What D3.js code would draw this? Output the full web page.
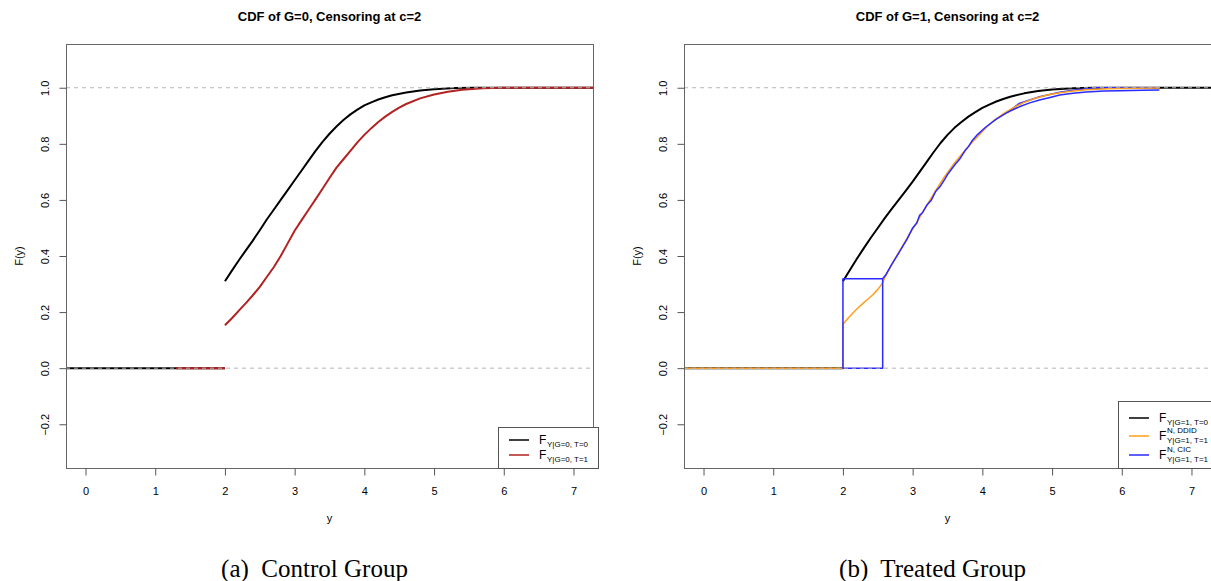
<!DOCTYPE html>
<html>
<head>
<meta charset="utf-8">
<script src="https://cdn.jsdelivr.net/npm/d3@7"></script>
<style>
  body { margin: 0; background: #fff; }
  svg { display: block; }
</style>
</head>
<body>
<svg></svg>
<script>
// Dimensions
var width = 1211;
var height = 581;

// Axis ticks and labels
var xTicks = [0, 1, 2, 3, 4, 5, 6, 7];
var yTicks = [-0.2, 0, 0.2, 0.4, 0.6, 0.8, 1.0];
var titles = ['CDF of G=0, Censoring at c=2', 'CDF of G=1, Censoring at c=2'];
var captions = ['(a)  Control Group', '(b)  Treated Group'];

// Control group CDFs, [y, F(y)] (null breaks the line)
var ctrlT0 = [[-0.3, 0], [2, 0], [2, null],
  [2.0, 0.31], [2.1, 0.348], [2.2, 0.385], [2.3, 0.42], [2.4, 0.455], [2.5, 0.492], [2.6, 0.53],
  [2.7, 0.565], [2.8, 0.6], [2.9, 0.635], [3.0, 0.67], [3.1, 0.705], [3.2, 0.74], [3.3, 0.775],
  [3.4, 0.807], [3.5, 0.836], [3.6, 0.862], [3.7, 0.885], [3.8, 0.905], [3.9, 0.922],
  [4.0, 0.937], [4.1, 0.948], [4.2, 0.958], [4.3, 0.966], [4.4, 0.973], [4.6, 0.983],
  [4.8, 0.99], [5.0, 0.995], [5.3, 0.999], [5.6, 1.0], [7.3, 1.0]];
var ctrlT1 = [[1.3, 0], [2, 0], [2, null],
  [2.0, 0.153], [2.1, 0.178], [2.2, 0.205], [2.3, 0.232], [2.4, 0.26], [2.5, 0.29], [2.6, 0.325],
  [2.7, 0.36], [2.8, 0.4], [2.9, 0.445], [3.0, 0.49], [3.1, 0.528], [3.2, 0.565], [3.3, 0.602],
  [3.4, 0.64], [3.5, 0.678], [3.6, 0.715], [3.7, 0.745], [3.8, 0.775], [3.9, 0.805],
  [4.0, 0.832], [4.1, 0.856], [4.2, 0.878], [4.3, 0.897], [4.4, 0.914], [4.5, 0.929],
  [4.6, 0.942], [4.8, 0.962], [5.0, 0.976], [5.2, 0.986], [5.4, 0.993], [5.7, 0.998],
  [6.0, 1.0], [7.3, 1.0]];

// Treated group CDFs
var treatT0 = [[-0.3, 0], [2, 0], [2, null],
  [2.0, 0.31], [2.1, 0.35], [2.2, 0.39], [2.3, 0.428], [2.4, 0.465], [2.5, 0.5], [2.6, 0.535],
  [2.7, 0.568], [2.8, 0.6], [2.9, 0.632], [3.0, 0.665], [3.1, 0.7], [3.2, 0.735], [3.3, 0.77],
  [3.4, 0.803], [3.5, 0.832], [3.6, 0.857], [3.7, 0.878], [3.8, 0.897], [3.9, 0.913],
  [4.0, 0.928], [4.1, 0.94], [4.2, 0.951], [4.3, 0.96], [4.4, 0.968], [4.6, 0.98],
  [4.8, 0.988], [5.0, 0.994], [5.3, 0.998], [5.6, 1.0], [7.3, 1.0]];
var treatDDID = [[-0.3, 0], [2.0, 0], [2.0, 0.157], [2.08, 0.18], [2.17, 0.204], [2.26, 0.225],
  [2.35, 0.245], [2.43, 0.262], [2.5, 0.281], [2.56, 0.3], [2.6, 0.323], [2.67, 0.355],
  [2.74, 0.388], [2.88, 0.447], [3.03, 0.508], [3.17, 0.567], [3.31, 0.625], [3.45, 0.68],
  [3.6, 0.732], [3.75, 0.776], [3.89, 0.815], [4.03, 0.852], [4.17, 0.884], [4.32, 0.91],
  [4.46, 0.931], [4.6, 0.948], [4.75, 0.962], [4.93, 0.974], [5.11, 0.982], [5.3, 0.988],
  [5.49, 0.993], [5.8, 0.996], [6.2, 0.998], [6.54, 0.999]];
var treatCIC = [[2.57, 0.319], [2.57, 0], [2.0, 0], [2.0, 0.319], [2.57, 0.319], [2.62, 0.335],
  [2.7, 0.37], [2.8, 0.41], [2.92, 0.46], [3.0, 0.5], [3.06, 0.518], [3.1, 0.545], [3.14, 0.554],
  [3.2, 0.58], [3.27, 0.6], [3.33, 0.63], [3.4, 0.65], [3.46, 0.673], [3.5, 0.69], [3.57, 0.714],
  [3.62, 0.73], [3.67, 0.744], [3.75, 0.775], [3.8, 0.79], [3.85, 0.81], [3.93, 0.833],
  [4.05, 0.86], [4.2, 0.888], [4.36, 0.912], [4.53, 0.932], [4.68, 0.946], [4.82, 0.956],
  [5.0, 0.967], [5.11, 0.974], [5.3, 0.98], [5.49, 0.985], [5.75, 0.988], [5.97, 0.989],
  [6.3, 0.991], [6.54, 0.992]];
var treatCICHi = [[4.36, 0.912], [4.53, 0.944], [4.82, 0.968], [5.11, 0.984], [5.3, 0.991],
  [5.49, 0.996], [5.6, 1.0], [6.54, 1.0]];

// Panels
var panels = [
  {
    left: 66, title: titles[0], caption: captions[0],
    series: [
      {data: ctrlT0, color: '#000', width: 2},
      {data: ctrlT1, color: '#b22222', width: 2}
    ],
    legend: {x: 498, y: 427, w: 100, h: 41, rows: [440, 455], items: [
      {color: '#000', sup: '', sub: 'Y|G=0, T=0'},
      {color: '#b22222', sup: '', sub: 'Y|G=0, T=1'}
    ]}
  },
  {
    left: 684, title: titles[1], caption: captions[1],
    series: [
      {data: treatT0, color: '#000', width: 2},
      {data: treatCICHi, color: '#2a2aff', width: 1.5},
      {data: treatDDID, color: '#ff9f1c', width: 1.5},
      {data: treatCIC, color: '#2a2aff', width: 1.5}
    ],
    legend: {x: 1118, y: 401, w: 100, h: 67, rows: [418, 436, 455], items: [
      {color: '#000', sup: '', sub: 'Y|G=1, T=0'},
      {color: '#ff9f1c', sup: 'N, DDID', sub: 'Y|G=1, T=1'},
      {color: '#2a2aff', sup: 'N, CIC', sub: 'Y|G=1, T=1'}
    ]}
  }
];

var plotW = 527;
var plotTop = 44;
var plotBottom = 468;

var svg = d3.select('svg')
  .attr('width', width)
  .attr('height', height)
  .style('font-family', 'Liberation Sans, Arial, sans-serif');

var y = d3.scaleLinear()
  .domain([-0.356, 1.156])
  .range([plotBottom, plotTop]);

panels.forEach(function (p, i) {
  var x = d3.scaleLinear()
    .domain([-0.28, 7.28])
    .range([p.left, p.left + plotW]);

  var g = svg.append('g');

  var clipId = 'clip' + i;
  svg.append('clipPath')
    .attr('id', clipId)
    .append('rect')
      .attr('x', p.left)
      .attr('y', plotTop)
      .attr('width', plotW)
      .attr('height', plotBottom - plotTop);

  // Title
  g.append('text')
    .attr('x', p.left + plotW / 2)
    .attr('y', 21)
    .attr('text-anchor', 'middle')
    .attr('font-weight', 'bold')
    .attr('font-size', 13)
    .attr('fill', '#000')
    .text(p.title);

  // Curves
  var line = d3.line()
    .defined(function (d) { return d[1] !== null; })
    .x(function (d) { return x(d[0]); })
    .y(function (d) { return y(d[1]); });

  var curves = g.append('g').attr('clip-path', 'url(#' + clipId + ')');

  p.series.forEach(function (s) {
    curves.append('path')
      .datum(s.data)
      .attr('d', line)
      .attr('fill', 'none')
      .attr('stroke', s.color)
      .attr('stroke-width', s.width)
      .attr('stroke-linejoin', 'round');
  });

  // Dashed reference lines at 0 and 1
  [0, 1].forEach(function (v) {
    curves.append('line')
      .attr('x1', p.left)
      .attr('x2', p.left + plotW)
      .attr('y1', y(v))
      .attr('y2', y(v))
      .attr('stroke', '#b5b5b5')
      .attr('stroke-width', 1)
      .attr('stroke-dasharray', '4,4');
  });

  // Box
  g.append('rect')
    .attr('x', p.left + 0.5)
    .attr('y', plotTop + 0.5)
    .attr('width', plotW)
    .attr('height', plotBottom - plotTop)
    .attr('fill', 'none')
    .attr('stroke', '#666')
    .attr('stroke-width', 1);

  // X axis
  var xAxis = d3.axisBottom(x)
    .tickValues(xTicks)
    .tickFormat(d3.format('d'))
    .tickSizeInner(7)
    .tickSizeOuter(0)
    .tickPadding(12);

  var gx = g.append('g')
    .attr('transform', 'translate(0,' + (plotBottom + 0.5) + ')')
    .call(xAxis);
  gx.select('.domain').remove();
  gx.selectAll('line').attr('stroke', '#555');
  gx.selectAll('text')
    .attr('font-size', 11)
    .attr('font-family', 'Liberation Sans, Arial, sans-serif')
    .attr('fill', '#000');

  // Y axis
  var yAxis = d3.axisLeft(y)
    .tickValues(yTicks)
    .tickFormat(d3.format('.1f'))
    .tickSizeInner(7)
    .tickSizeOuter(0);

  var gy = g.append('g')
    .attr('transform', 'translate(' + (p.left + 0.5) + ',0)')
    .call(yAxis);
  gy.select('.domain').remove();
  gy.selectAll('line').attr('stroke', '#555');
  gy.selectAll('text')
    .attr('x', null)
    .attr('dy', null)
    .attr('font-size', 11)
    .attr('font-family', 'Liberation Sans, Arial, sans-serif')
    .attr('fill', '#000')
    .attr('text-anchor', 'middle')
    .attr('transform', 'translate(-18,0) rotate(-90)');

  // Axis labels
  g.append('text')
    .attr('x', p.left + plotW / 2)
    .attr('y', 522)
    .attr('text-anchor', 'middle')
    .attr('font-size', 11)
    .attr('fill', '#000')
    .text('y');

  g.append('text')
    .attr('transform', 'translate(' + (p.left - 43) + ',' + ((plotTop + plotBottom) / 2) + ') rotate(-90)')
    .attr('text-anchor', 'middle')
    .attr('font-size', 11)
    .attr('fill', '#000')
    .text('F(y)');

  // Legend
  var lg = p.legend;
  var leg = g.append('g');
  leg.append('rect')
    .attr('x', lg.x + 0.5)
    .attr('y', lg.y + 0.5)
    .attr('width', lg.w)
    .attr('height', lg.h)
    .attr('fill', '#fff')
    .attr('stroke', '#555');

  lg.items.forEach(function (it, k) {
    var ry = lg.rows[k];
    leg.append('line')
      .attr('x1', lg.x + 11)
      .attr('x2', lg.x + 31)
      .attr('y1', ry)
      .attr('y2', ry)
      .attr('stroke', it.color)
      .attr('stroke-width', 1.5);
    leg.append('text')
      .attr('x', lg.x + 41)
      .attr('y', ry + 4)
      .attr('font-size', 12)
      .attr('fill', '#000')
      .text('F');
    if (it.sup) {
      leg.append('text')
        .attr('x', lg.x + 49)
        .attr('y', ry - 3)
        .attr('font-size', 8)
        .attr('fill', '#000')
        .text(it.sup);
    }
    leg.append('text')
      .attr('x', lg.x + 49)
      .attr('y', ry + 7)
      .attr('font-size', 8)
      .attr('fill', '#000')
      .text(it.sub);
  });

  // Caption
  svg.append('text')
    .attr('x', p.left + plotW / 2 - 15)
    .attr('y', 577)
    .attr('text-anchor', 'middle')
    .attr('font-family', 'Liberation Serif, Times New Roman, serif')
    .attr('font-size', 25)
    .attr('fill', '#000')
    .attr('xml:space', 'preserve')
    .style('white-space', 'pre')
    .text(p.caption);
});
</script>
</body>
</html>
